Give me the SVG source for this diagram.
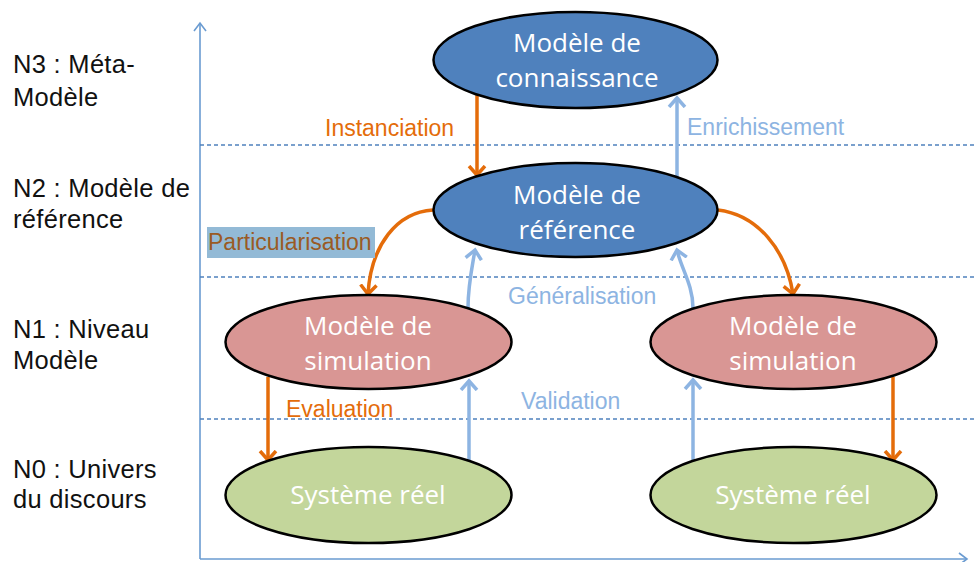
<svg xmlns="http://www.w3.org/2000/svg" width="974" height="562" viewBox="0 0 974 562">
<style>
.lvl{font-family:"Liberation Sans",Arial,sans-serif;font-size:25.5px;letter-spacing:0.3px;fill:#111}
.nt{font-family:"Open Sans","DejaVu Sans",sans-serif;font-size:26px;fill:#fff;text-anchor:middle}
.ol{font-family:"Liberation Sans",Arial,sans-serif;font-size:23px;fill:#E46C0A}
.bl{font-family:"Liberation Sans",Arial,sans-serif;font-size:23px;fill:#8DB4E2}
.ell{stroke:#000;stroke-width:2.5}
.dash{stroke:#4F81BD;stroke-width:1.3;stroke-dasharray:4 3;fill:none}
.oa{stroke:#E46C0A;stroke-width:3.5;fill:none;marker-end:url(#ao)}
.ba{stroke:#8DB4E2;stroke-width:3.5;fill:none;marker-end:url(#ab)}
</style>
<defs>
<marker id="ao" markerUnits="userSpaceOnUse" viewBox="-10 -10 20 20" refX="0" refY="0" markerWidth="20" markerHeight="20" orient="auto">
<path d="M-9,-8 L0,0 L-9,8" fill="none" stroke="#E46C0A" stroke-width="3.5"/>
</marker>
<marker id="ab" markerUnits="userSpaceOnUse" viewBox="-10 -10 20 20" refX="0" refY="0" markerWidth="20" markerHeight="20" orient="auto">
<path d="M-9,-8 L0,0 L-9,8" fill="none" stroke="#8DB4E2" stroke-width="3.5"/>
</marker>
<marker id="ax" markerUnits="userSpaceOnUse" viewBox="-10 -10 20 20" refX="0" refY="0" markerWidth="20" markerHeight="20" orient="auto">
<path d="M-8,-6 L0,0 L-8,6" fill="none" stroke="#6A9BD1" stroke-width="1.6"/>
</marker>
</defs>
<rect width="974" height="562" fill="#fff"/>
<g id="axes">
<line x1="200" y1="559" x2="200" y2="23" stroke="#6A9BD1" stroke-width="1.6" marker-end="url(#ax)"/>
<line x1="200" y1="559" x2="967" y2="559" stroke="#6A9BD1" stroke-width="1.6" marker-end="url(#ax)"/>
<line class="dash" x1="200" y1="145" x2="974" y2="145"/>
<line class="dash" x1="200" y1="277" x2="974" y2="277"/>
<line class="dash" x1="200" y1="419" x2="974" y2="419"/>
</g>
<g id="levels">
<text class="lvl" x="13" y="73">N3 : Méta-</text>
<text class="lvl" x="13" y="106">Modèle</text>
<text class="lvl" x="13" y="197">N2 : Modèle de</text>
<text class="lvl" x="13" y="228">référence</text>
<text class="lvl" x="13" y="338">N1 : Niveau</text>
<text class="lvl" x="13" y="369">Modèle</text>
<text class="lvl" x="13" y="478">N0 : Univers</text>
<text class="lvl" x="13" y="508">du discours</text>
</g>
<g id="connectors">
<path class="oa" d="M477,95 L477,175"/>
<path class="ba" d="M677,177 L677,98"/>
<path class="oa" d="M433,210 C397,212 371,245 368,294"/>
<path class="oa" d="M718,210 C758,215 786,250 793,294"/>
<path class="ba" d="M468,308 C468,285 472,268 475,250"/>
<path class="ba" d="M693,308 C693,285 681,268 677,250"/>
<path class="ba" d="M469,462 L469,381"/>
<path class="ba" d="M693,462 L693,380"/>
<path class="oa" d="M268,377 L268,460"/>
<path class="oa" d="M893,377 L893,460"/>
<text class="ol" x="325" y="136">Instanciation</text>
<text class="bl" x="687" y="135">Enrichissement</text>
<rect x="207" y="227" width="168" height="31" fill="#93BAD6"/>
<text x="208" y="250" font-family="Liberation Sans, Arial, sans-serif" font-size="23" fill="#9A5A24">Particularisation</text>
<text class="bl" x="508" y="304">Généralisation</text>
<text class="bl" x="521" y="409">Validation</text>
<text class="ol" x="286" y="417">Evaluation</text>
</g>
<g id="n-connaissance">
<ellipse class="ell" cx="575.5" cy="60" rx="142" ry="48" fill="#4F81BD"/>
<text class="nt" x="577" y="52">Modèle de</text>
<text class="nt" x="577" y="87">connaissance</text>
</g>
<g id="n-reference">
<ellipse class="ell" cx="575.5" cy="210" rx="142" ry="47" fill="#4F81BD"/>
<text class="nt" x="577" y="204">Modèle de</text>
<text class="nt" x="577" y="239">référence</text>
</g>
<g id="n-sim-left">
<ellipse class="ell" cx="368.5" cy="342" rx="143" ry="47" fill="#D99694"/>
<text class="nt" x="368" y="335">Modèle de</text>
<text class="nt" x="368" y="370">simulation</text>
</g>
<g id="n-sim-right">
<ellipse class="ell" cx="793.5" cy="342" rx="143" ry="47" fill="#D99694"/>
<text class="nt" x="793" y="335">Modèle de</text>
<text class="nt" x="793" y="370">simulation</text>
</g>
<g id="n-sys-left">
<ellipse class="ell" cx="368.5" cy="495" rx="143" ry="48" fill="#C3D69B"/>
<text class="nt" x="368" y="504">Système réel</text>
</g>
<g id="n-sys-right">
<ellipse class="ell" cx="793.5" cy="495" rx="143" ry="48" fill="#C3D69B"/>
<text class="nt" x="793" y="504">Système réel</text>
</g>
</svg>
